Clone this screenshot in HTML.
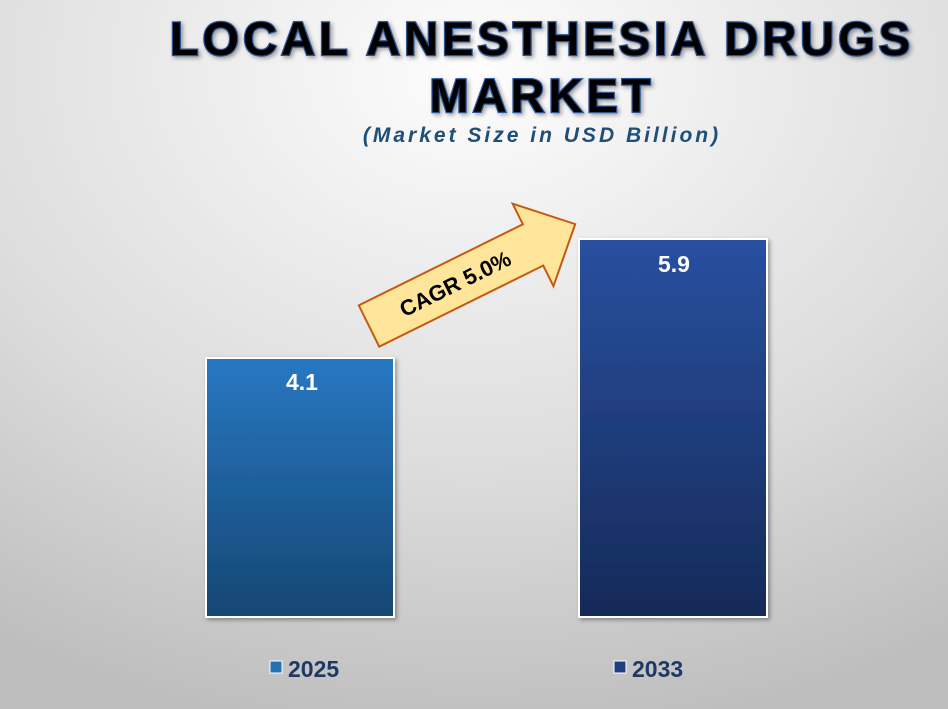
<!DOCTYPE html>
<html><head><meta charset="utf-8"><style>
html,body{margin:0;padding:0;width:948px;height:709px;overflow:hidden}
</style></head><body>
<svg width="948" height="709" xmlns="http://www.w3.org/2000/svg" font-family="Liberation Sans, sans-serif">
<defs>
<radialGradient id="bg" cx="0.5" cy="0.1" r="0.95">
<stop offset="0" stop-color="#fdfdfd"/><stop offset="0.6" stop-color="#dcdcdc"/><stop offset="1" stop-color="#bdbdbd"/>
</radialGradient>
<linearGradient id="b1" x1="0" y1="0" x2="0" y2="1"><stop offset="0" stop-color="#2878c2"/><stop offset="1" stop-color="#154673"/></linearGradient>
<linearGradient id="b2" x1="0" y1="0" x2="0" y2="1"><stop offset="0" stop-color="#2950a0"/><stop offset="1" stop-color="#152a58"/></linearGradient>
<filter id="sh"><feDropShadow dx="2" dy="2" stdDeviation="2" flood-opacity="0.35"/></filter>
</defs>
<rect width="948" height="709" fill="url(#bg)"/>
<g font-weight="bold" font-size="47" text-anchor="middle" fill="#000" stroke="#2b5597" stroke-width="2.5" paint-order="stroke" letter-spacing="4" filter="url(#sh)">
<text x="542" y="55">LOCAL ANESTHESIA DRUGS</text>
<text x="542" y="112">MARKET</text>
</g>
<text x="542" y="142" text-anchor="middle" font-weight="bold" font-style="italic" font-size="21" fill="#1f4e79" letter-spacing="3">(Market Size in USD Billion)</text>
<rect x="206" y="358" width="188" height="259" fill="url(#b1)" stroke="#fff" stroke-width="2" filter="url(#sh)"/>
<rect x="579" y="239" width="188" height="378" fill="url(#b2)" stroke="#fff" stroke-width="2" filter="url(#sh)"/>
<text x="302" y="390" text-anchor="middle" font-weight="bold" font-size="23" fill="#fff">4.1</text>
<text x="674" y="272" text-anchor="middle" font-weight="bold" font-size="23" fill="#fff">5.9</text>
<g transform="translate(369,326) rotate(-26.3)">
<polygon points="0,-23 183,-23 183,-46 230,0 183,46 183,23 0,23" fill="#ffe599" stroke="#c55a11" stroke-width="2"/>
<text x="96" y="8" text-anchor="middle" font-weight="bold" font-size="22" fill="#000">CAGR 5.0%</text>
</g>
<rect x="270" y="661" width="12" height="12" fill="#2472b5" stroke="#fff" stroke-width="1"/>
<text x="288" y="677" font-weight="bold" font-size="23" fill="#1f3864">2025</text>
<rect x="614" y="661" width="12" height="12" fill="#1f3f80" stroke="#fff" stroke-width="1"/>
<text x="632" y="677" font-weight="bold" font-size="23" fill="#1f3864">2033</text>
</svg>
</body></html>
